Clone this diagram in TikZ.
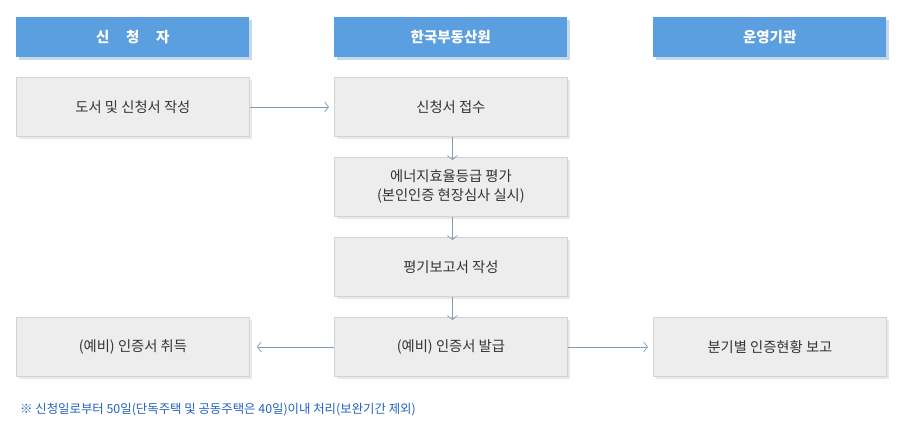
\documentclass[tikz,border=0pt]{standalone}
\usepackage{fontspec}
\setmainfont{Noto Sans CJK KR}
\usetikzlibrary{arrows.meta}
\definecolor{hdrblue}{HTML}{5B9FE1}
\definecolor{hdrshadow}{HTML}{C6D9EA}
\definecolor{boxfill}{HTML}{EDEDED}
\definecolor{boxline}{HTML}{D3D3D3}
\definecolor{boxshadow}{HTML}{E8E8E8}
\definecolor{arrowcol}{HTML}{7F9CC0}
\definecolor{txtcol}{HTML}{333333}
\definecolor{notecol}{HTML}{2460C0}
\begin{document}
\begin{tikzpicture}[x=1pt,y=-1pt,
  hdr/.style={fill=hdrblue, draw=none, minimum width=233pt, minimum height=40pt, inner sep=0pt,
    text=white, font=\fontsize{14.5}{16}\selectfont\bfseries, anchor=north west},
  hdrsh/.style={fill=hdrshadow, draw=none, minimum width=233pt, minimum height=40pt, inner sep=0pt, anchor=north west},
  stepbox/.style={fill=boxfill, draw=boxline, line width=0.8pt, minimum width=233pt, minimum height=59pt, inner sep=0pt,
    text=txtcol, font=\fontsize{14.3}{19}\selectfont, align=center, anchor=north west},
  boxsh/.style={fill=boxshadow, draw=none, minimum width=233pt, minimum height=59pt, inner sep=0pt, anchor=north west},
  conn/.style={draw=arrowcol, line width=0.7pt, -{Straight Barb[length=4pt,width=10pt,line width=0.7pt]}}
]
\useasboundingbox (0,0) rectangle (900,436);
% header shadows
\foreach \x in {16,334,653} { \node[hdrsh] at (\x+3,17+3) {}; }
\node[hdr] (h1) at (16,17) {신\hspace{1.15em}청\hspace{1.15em}자};
\node[hdr] (h2) at (334,17) {한국부동산원};
\node[hdr] (h3) at (653,17) {운영기관};
% box shadows
\foreach \x/\y in {16/77,334/77,334/157,334/237,16/317,334/317,653/317} { \node[boxsh] at (\x+3,\y+3) {}; }
\node[stepbox] (a) at (16,77) {도서 및 신청서 작성};
\node[stepbox] (b) at (334,77) {신청서 접수};
\node[stepbox] (c) at (334,157) {에너지효율등급 평가\\(본인인증 현장심사 실시)};
\node[stepbox] (d) at (334,237) {평기보고서 작성};
\node[stepbox] (e) at (334,317) {(예비) 인증서 발급};
\node[stepbox] (f) at (16,317) {(예비) 인증서 취득};
\node[stepbox] (g) at (653,317) {분기별 인증현황 보고};
% connectors
\draw[conn] (a.east) -- ([xshift=-5pt]b.west);
\draw[conn] ([xshift=1.5pt]b.south) -- ([xshift=1.5pt,yshift=-3pt]c.north);
\draw[conn] ([xshift=1.5pt]c.south) -- ([xshift=1.5pt,yshift=-3pt]d.north);
\draw[conn] ([xshift=1.5pt]d.south) -- ([xshift=1.5pt,yshift=-3pt]e.north);
\draw[conn] (e.west) -- ([xshift=7pt]f.east);
\draw[conn] (e.east) -- ([xshift=-5pt]g.west);
\node[anchor=west, text=notecol, font=\fontsize{12.4}{14}\selectfont, inner sep=0pt] (note) at (20,410) {※ 신청일로부터 50일(단독주택 및 공동주택은 40일)이내 처리(보완기간 제외)};
\end{tikzpicture}
\end{document}
